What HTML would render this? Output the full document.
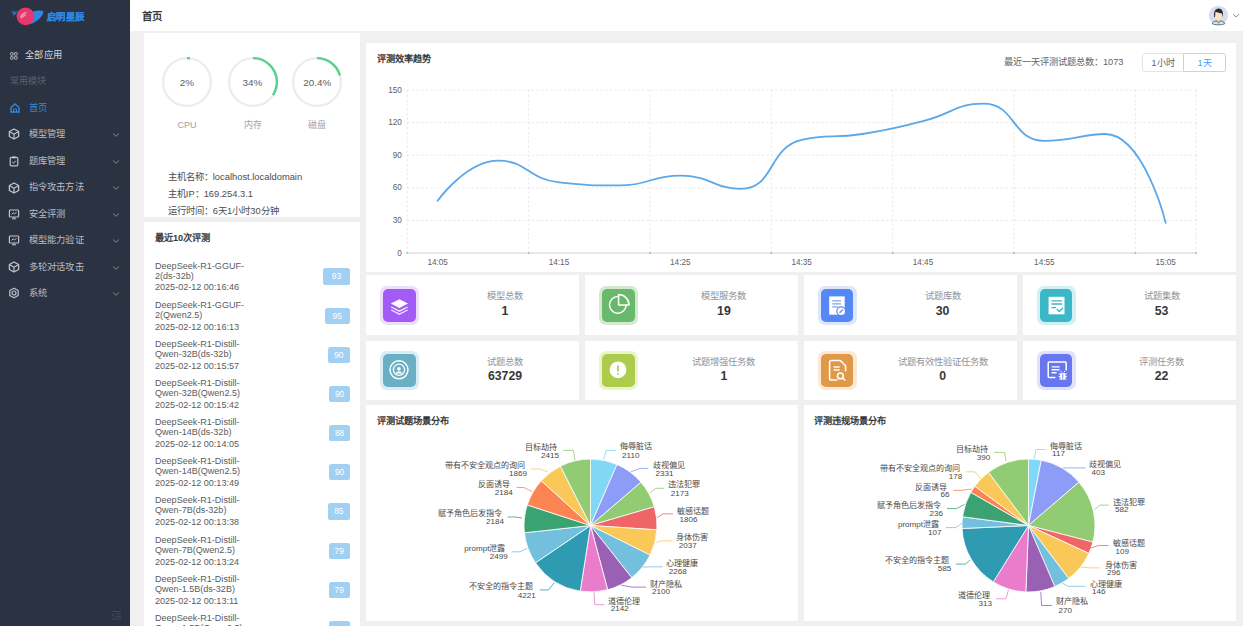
<!DOCTYPE html>
<html lang="zh-CN">
<head>
<meta charset="utf-8">
<style>
*{margin:0;padding:0;box-sizing:border-box}
html,body{width:1243px;height:626px;overflow:hidden}
body{background:#f0f0f0;font-family:"Liberation Sans",sans-serif;color:#303133;position:relative}
.a{position:absolute}
.t{position:absolute;white-space:nowrap;line-height:1}
#side{left:0;top:0;width:130px;height:626px;background:#2b3241}
#hdr{left:130px;top:0;width:1113px;height:31px;background:#fff;}
.card{position:absolute;background:#fff}
.mi{position:absolute;left:0;width:130px;height:14px;color:#b9bec6;font-size:9.25px;letter-spacing:0.2px}
.mi .tx{position:absolute;left:28.7px;top:2px;white-space:nowrap;line-height:10px}
.mi svg{position:absolute;left:9px;top:2.5px}
.mi .chev{left:112px;top:4px}
.stat .lab{position:absolute;left:0;width:100%;text-align:center;font-size:9.3px;color:#909399;line-height:10px}
.stat .val{position:absolute;left:0;width:100%;text-align:center;font-size:12.3px;font-weight:bold;color:#383838;line-height:13px}
.ico{position:absolute;left:14px;top:10.5px;width:39px;height:39px;border-radius:7px}
.ico .in{position:absolute;left:3.3px;top:3.2px;width:32.4px;height:32.6px;border-radius:5px}
.ico svg{position:absolute;left:0;top:0}
.rec{position:absolute;left:11px;width:200px;height:36px}
.rec .nm{position:absolute;left:0;top:0;font-size:9.06px;color:#595b60;line-height:10px;width:100px;white-space:pre}
.rec .dt{position:absolute;left:0;top:21.9px;font-size:9.06px;color:#595b60;line-height:10px;white-space:nowrap}
.rec .bd{position:absolute;top:2.3px;height:16.2px;background:#a2d0f2;border-radius:2.6px;color:#fff;font-size:8.4px;line-height:16.2px;text-align:center}
</style>
</head>
<body>
<!-- sidebar -->
<div id="side" class="a">
  <svg class="a" style="left:0;top:0" width="130" height="31" viewBox="0 0 130 31">
    <path d="M11,10.5 L14.5,12.2 L13.5,8 L15.2,12 L18,10.2 L15.8,13.4 L17.5,15 L14.5,14.3 L13.6,18 L13.3,14.4 Z" fill="#2d7fd1" opacity="0.85"/>
    <path d="M30.5,12 C36,10.2 41,10 43.3,11 C43.6,15.5 38.5,21 31,24 C29.5,23.5 30,22 31.8,20.5 Z" fill="#2d88e6"/>
    <circle cx="25.5" cy="16.3" r="8.9" fill="#e8386b"/>
    <path d="M19.8,16.8 C21,13.5 24,11.6 27.5,12.2 L24.2,14.2 L27,14.6 L21.5,18.8 Z" fill="#f6a9c1" opacity="0.7"/>
  </svg>
  <div class="t" style="left:46.8px;top:13.2px;font-size:9.3px;font-weight:bold;color:#2a86e0;letter-spacing:0.5px;-webkit-text-stroke:0.35px #2a86e0">启明星辰</div>

  <div class="mi" style="top:48.2px;color:#d2d6dc">
    <svg width="8" height="8" viewBox="0 0 8 8" style="left:9.6px;top:3.6px"><g fill="none" stroke="#cfd3d9" stroke-width="0.8"><rect x="0.6" y="0.6" width="2.6" height="2.6" rx="0.5"/><rect x="4.6" y="0.6" width="2.6" height="2.6" rx="0.5"/><rect x="0.6" y="4.6" width="2.6" height="2.6" rx="0.5"/><rect x="4.6" y="4.6" width="2.6" height="2.6" rx="0.5"/></g></svg>
    <div class="tx" style="left:25.2px">全部应用</div>
  </div>
  <div class="t" style="left:9.9px;top:77px;font-size:9.06px;color:#596170">常用模块</div>
  <div class="mi" style="top:100.9px;color:#2f89df">
    <svg width="10" height="10" viewBox="0 0 10 10" style="left:9.8px;top:2.5px"><path d="M1,4.5 L5,1 L9,4.5 L9,9 L1,9 Z" fill="none" stroke="#2f89df" stroke-width="1.4"/><path d="M3.5,9 L3.5,6 L6.5,6 L6.5,9" fill="none" stroke="#2f89df" stroke-width="1"/></svg>
    <div class="tx">首页</div>
  </div>
  <div class="mi" style="top:127.2px"><svg width="12" height="12" viewBox="0 0 12 12" style="left:8px;top:1.2px"><path d="M6,1 L10.6,3.5 V8.5 L6,11 L1.4,8.5 V3.5 Z" fill="none" stroke="#bfc4cc" stroke-width="1.3" stroke-linejoin="round"/><path d="M6,6.2 V10.8 M6,6.2 L1.8,3.8 M6,6.2 L10.2,3.8" stroke="#bfc4cc" stroke-width="1.2"/></svg><div class="tx">模型管理</div><svg class="chev" style="top:5px" width="8" height="6" viewBox="0 0 8 6"><path d="M1,1.5 L4,4.3 L7,1.5" fill="none" stroke="#8a909a" stroke-width="0.9"/></svg></div>
<div class="mi" style="top:153.7px"><svg width="12" height="12" viewBox="0 0 12 12" style="left:8px;top:1.2px"><rect x="2.2" y="2.4" width="7.6" height="8.4" rx="1" fill="none" stroke="#bfc4cc" stroke-width="1.2"/><path d="M4.4,1.4 H7.6 V3.4 H4.4Z" fill="#bfc4cc"/><path d="M4.2,7 L5.6,8.2 L7.8,5.8" fill="none" stroke="#bfc4cc" stroke-width="1"/></svg><div class="tx">题库管理</div><svg class="chev" style="top:5px" width="8" height="6" viewBox="0 0 8 6"><path d="M1,1.5 L4,4.3 L7,1.5" fill="none" stroke="#8a909a" stroke-width="0.9"/></svg></div>
<div class="mi" style="top:180.4px"><svg width="12" height="12" viewBox="0 0 12 12" style="left:8px;top:1.2px"><path d="M6,1 L10.6,3.5 V8.5 L6,11 L1.4,8.5 V3.5 Z" fill="none" stroke="#bfc4cc" stroke-width="1.3" stroke-linejoin="round"/><path d="M6,6.2 V10.8 M6,6.2 L1.8,3.8 M6,6.2 L10.2,3.8" stroke="#bfc4cc" stroke-width="1.2"/></svg><div class="tx">指令攻击方法</div><svg class="chev" style="top:5px" width="8" height="6" viewBox="0 0 8 6"><path d="M1,1.5 L4,4.3 L7,1.5" fill="none" stroke="#8a909a" stroke-width="0.9"/></svg></div>
<div class="mi" style="top:206.9px"><svg width="12" height="12" viewBox="0 0 12 12" style="left:8px;top:1.2px"><rect x="1.4" y="2" width="9.2" height="7" rx="0.8" fill="none" stroke="#bfc4cc" stroke-width="1.2"/><path d="M4,10.8 H8 M6,9 V10.8 M3.6,6.4 L5.2,4.8 L6.6,6 L8.4,4.2" fill="none" stroke="#bfc4cc" stroke-width="1"/></svg><div class="tx">安全评测</div><svg class="chev" style="top:5px" width="8" height="6" viewBox="0 0 8 6"><path d="M1,1.5 L4,4.3 L7,1.5" fill="none" stroke="#8a909a" stroke-width="0.9"/></svg></div>
<div class="mi" style="top:233px"><svg width="12" height="12" viewBox="0 0 12 12" style="left:8px;top:1.2px"><rect x="1.4" y="2" width="9.2" height="7" rx="0.8" fill="none" stroke="#bfc4cc" stroke-width="1.2"/><path d="M4,10.8 H8 M6,9 V10.8 M3.6,6.4 L5.2,4.8 L6.6,6 L8.4,4.2" fill="none" stroke="#bfc4cc" stroke-width="1"/></svg><div class="tx">模型能力验证</div><svg class="chev" style="top:5px" width="8" height="6" viewBox="0 0 8 6"><path d="M1,1.5 L4,4.3 L7,1.5" fill="none" stroke="#8a909a" stroke-width="0.9"/></svg></div>
<div class="mi" style="top:259.5px"><svg width="12" height="12" viewBox="0 0 12 12" style="left:8px;top:1.2px"><path d="M6,1 L10.6,3.5 V8.5 L6,11 L1.4,8.5 V3.5 Z" fill="none" stroke="#bfc4cc" stroke-width="1.3" stroke-linejoin="round"/><path d="M6,6.2 V10.8 M6,6.2 L1.8,3.8 M6,6.2 L10.2,3.8" stroke="#bfc4cc" stroke-width="1.2"/></svg><div class="tx">多轮对话攻击</div><svg class="chev" style="top:5px" width="8" height="6" viewBox="0 0 8 6"><path d="M1,1.5 L4,4.3 L7,1.5" fill="none" stroke="#8a909a" stroke-width="0.9"/></svg></div>
<div class="mi" style="top:286px"><svg width="12" height="12" viewBox="0 0 12 12" style="left:8px;top:1.2px"><circle cx="6" cy="6" r="2" fill="none" stroke="#bfc4cc" stroke-width="1.2"/><path d="M6,1.2 L10.2,3.6 V8.4 L6,10.8 L1.8,8.4 V3.6 Z" fill="none" stroke="#bfc4cc" stroke-width="1.2" stroke-linejoin="round"/></svg><div class="tx">系统</div><svg class="chev" style="top:5px" width="8" height="6" viewBox="0 0 8 6"><path d="M1,1.5 L4,4.3 L7,1.5" fill="none" stroke="#8a909a" stroke-width="0.9"/></svg></div>
  <svg class="a" style="left:111px;top:610px" width="11" height="10" viewBox="0 0 11 10"><g stroke="#404858" stroke-width="1"><path d="M1,1.5H10M5,4H10M5,6.5H10M1,9H10"/><path d="M3.5,3.5 L1,5.2 L3.5,7" fill="none"/></g></svg>
</div>

<!-- header -->
<div id="hdr" class="a">
  <div class="t" style="left:12px;top:11.6px;font-size:10.4px;font-weight:bold;color:#383838">首页</div>
  <svg class="a" style="left:1078px;top:5px" width="35" height="22" viewBox="0 0 35 22">
    <circle cx="10.5" cy="10.4" r="9.6" fill="#d9dcec"/>
    <path d="M4.2,18.6 C5.2,16.4 7.6,15.8 10.5,15.8 C13.4,15.8 15.8,16.4 16.8,18.6 C14.8,20.2 6.2,20.2 4.2,18.6Z" fill="#cfe9ee" stroke="#3d5056" stroke-width="0.8"/>
    <path d="M8.6,16 L10.5,18.2 L12.4,16" fill="none" stroke="#3d5056" stroke-width="0.7"/>
    <path d="M9.3,13.6 L11.7,13.6 L11.6,16.6 L9.4,16.6 Z" fill="#efcfae"/>
    <ellipse cx="10.5" cy="10.9" rx="3.3" ry="4.4" fill="#fde3c4"/>
    <path d="M6.3,12.2 C5.3,6.6 7.4,3.5 10.6,3.4 C13.8,3.4 15.8,6.3 14.8,12.2 L14,8.6 C12.4,8.2 9.2,7.6 7.4,6.8 L7,12.2 Z" fill="#262a30"/>
    <path d="M25.4,9.2 L28.2,12 L31,9.2" fill="none" stroke="#7d828a" stroke-width="1"/>
  </svg>
</div>

<!-- left column -->
<div class="card" style="left:144px;top:32.6px;width:216px;height:184.3px">
  <svg class="a" style="left:17px;top:23.9px" width="52" height="52" viewBox="0 0 52 52"><circle cx="26" cy="26" r="23.9" fill="none" stroke="#ededf0" stroke-width="2.4"/><circle cx="26" cy="26" r="23.9" fill="none" stroke="#55d489" stroke-width="2.4" stroke-linecap="butt" stroke-dasharray="3 1000" transform="rotate(-90 26 26)"/></svg>
<div class="t" style="left:13px;width:60px;text-align:center;top:45.2px;font-size:9.9px;color:#5e6064">2%</div>
<div class="t" style="left:13px;width:60px;text-align:center;top:88.6px;font-size:9.06px;color:#a0a3a8">CPU</div>
<svg class="a" style="left:82.5px;top:23.9px" width="52" height="52" viewBox="0 0 52 52"><circle cx="26" cy="26" r="23.9" fill="none" stroke="#ededf0" stroke-width="2.4"/><circle cx="26" cy="26" r="23.9" fill="none" stroke="#55d489" stroke-width="2.4" stroke-linecap="butt" stroke-dasharray="51.06 1000" transform="rotate(-90 26 26)"/></svg>
<div class="t" style="left:78.5px;width:60px;text-align:center;top:45.2px;font-size:9.9px;color:#5e6064">34%</div>
<div class="t" style="left:78.5px;width:60px;text-align:center;top:88.6px;font-size:9.06px;color:#a0a3a8">内存</div>
<svg class="a" style="left:147.3px;top:23.9px" width="52" height="52" viewBox="0 0 52 52"><circle cx="26" cy="26" r="23.9" fill="none" stroke="#ededf0" stroke-width="2.4"/><circle cx="26" cy="26" r="23.9" fill="none" stroke="#55d489" stroke-width="2.4" stroke-linecap="butt" stroke-dasharray="30.63 1000" transform="rotate(-90 26 26)"/></svg>
<div class="t" style="left:143.3px;width:60px;text-align:center;top:45.2px;font-size:9.9px;color:#5e6064">20.4%</div>
<div class="t" style="left:143.3px;width:60px;text-align:center;top:88.6px;font-size:9.06px;color:#a0a3a8">磁盘</div>
  <div class="t" style="left:23.8px;top:140.6px;font-size:9.35px;color:#4a4d52">主机名称：localhost.localdomain</div>
  <div class="t" style="left:23.8px;top:157.7px;font-size:9.35px;color:#4a4d52">主机IP：169.254.3.1</div>
  <div class="t" style="left:23.8px;top:174.8px;font-size:9.35px;color:#4a4d52">运行时间：6天1小时30分钟</div>
</div>
<div class="card" style="left:144px;top:222.2px;width:216px;height:410px">
  <div class="t" style="left:11px;top:11.6px;font-size:9.2px;font-weight:bold;color:#3a3a3a">最近10次评测</div>
  <div class="rec" style="top:38.4px"><div class="nm">DeepSeek-R1-GGUF-
2(ds-32b)</div><div class="dt">2025-02-12 00:16:46</div><div class="bd" style="left:168.2px;width:26.6px;top:7.9px">93</div></div>
<div class="rec" style="top:77.55px"><div class="nm">DeepSeek-R1-GGUF-
2(Qwen2.5)</div><div class="dt">2025-02-12 00:16:13</div><div class="bd" style="left:169.5px;width:25.3px;top:7.9px">95</div></div>
<div class="rec" style="top:116.7px"><div class="nm">DeepSeek-R1-Distill-
Qwen-32B(ds-32b)</div><div class="dt">2025-02-12 00:15:57</div><div class="bd" style="left:172.8px;width:22px;top:7.9px">90</div></div>
<div class="rec" style="top:155.85px"><div class="nm">DeepSeek-R1-Distill-
Qwen-32B(Qwen2.5)</div><div class="dt">2025-02-12 00:15:42</div><div class="bd" style="left:174.3px;width:20.5px;top:7.9px">90</div></div>
<div class="rec" style="top:195px"><div class="nm">DeepSeek-R1-Distill-
Qwen-14B(ds-32b)</div><div class="dt">2025-02-12 00:14:05</div><div class="bd" style="left:174.3px;width:20.5px;top:7.9px">88</div></div>
<div class="rec" style="top:234.15px"><div class="nm">DeepSeek-R1-Distill-
Qwen-14B(Qwen2.5)</div><div class="dt">2025-02-12 00:13:49</div><div class="bd" style="left:174.3px;width:20.5px;top:7.9px">90</div></div>
<div class="rec" style="top:273.3px"><div class="nm">DeepSeek-R1-Distill-
Qwen-7B(ds-32b)</div><div class="dt">2025-02-12 00:13:38</div><div class="bd" style="left:172.8px;width:22px;top:7.9px">85</div></div>
<div class="rec" style="top:312.45px"><div class="nm">DeepSeek-R1-Distill-
Qwen-7B(Qwen2.5)</div><div class="dt">2025-02-12 00:13:24</div><div class="bd" style="left:173.6px;width:21.2px;top:7.9px">79</div></div>
<div class="rec" style="top:351.6px"><div class="nm">DeepSeek-R1-Distill-
Qwen-1.5B(ds-32B)</div><div class="dt">2025-02-12 00:13:11</div><div class="bd" style="left:173.6px;width:21.2px;top:7.9px">79</div></div>
<div class="rec" style="top:390.75px"><div class="nm">DeepSeek-R1-Distill-
Qwen-1.5B(Qwen2.5)</div><div class="dt">2025-02-12 00:12:58</div><div class="bd" style="left:173.6px;width:21.2px;top:7.9px">79</div></div>
</div>

<!-- chart card -->
<div class="card" style="left:366px;top:43.3px;width:870px;height:228.7px">
  <div class="t" style="left:11px;top:11.5px;font-size:9.2px;font-weight:bold;color:#3a3a3a">评测效率趋势</div>
  <div class="t" style="left:638px;top:15px;font-size:9.2px;color:#606266">最近一天评测试题总数：1073</div>
  <div class="a" style="left:776px;top:9.8px;width:42px;height:19px;border:0.65px solid #e2e4e8;border-radius:2.6px 0 0 2.6px;font-size:9.06px;color:#606266;text-align:center;line-height:18px">1小时</div>
  <div class="a" style="left:817px;top:9.8px;width:43px;height:19px;border:0.65px solid #b3d8ff;border-radius:0 2.6px 2.6px 0;font-size:9.06px;color:#409eff;text-align:center;line-height:18px;background:#fff">1天</div>
</div>
<svg class="a" style="left:0;top:0" width="1243" height="626" viewBox="0 0 1243 626">
  <path d="M407.3,90 H1196" stroke="#dedede" stroke-width="0.65" stroke-dasharray="2.6 2"/>
<path d="M407.3,122.6 H1196" stroke="#dedede" stroke-width="0.65" stroke-dasharray="2.6 2"/>
<path d="M407.3,155.2 H1196" stroke="#dedede" stroke-width="0.65" stroke-dasharray="2.6 2"/>
<path d="M407.3,187.8 H1196" stroke="#dedede" stroke-width="0.65" stroke-dasharray="2.6 2"/>
<path d="M407.3,220.4 H1196" stroke="#dedede" stroke-width="0.65" stroke-dasharray="2.6 2"/>
<path d="M407.3,90 V253" stroke="#dedede" stroke-width="0.65" stroke-dasharray="2.6 2"/>
<path d="M528.64,90 V253" stroke="#dedede" stroke-width="0.65" stroke-dasharray="2.6 2"/>
<path d="M649.98,90 V253" stroke="#dedede" stroke-width="0.65" stroke-dasharray="2.6 2"/>
<path d="M771.32,90 V253" stroke="#dedede" stroke-width="0.65" stroke-dasharray="2.6 2"/>
<path d="M892.65,90 V253" stroke="#dedede" stroke-width="0.65" stroke-dasharray="2.6 2"/>
<path d="M1013.99,90 V253" stroke="#dedede" stroke-width="0.65" stroke-dasharray="2.6 2"/>
<path d="M1135.33,90 V253" stroke="#dedede" stroke-width="0.65" stroke-dasharray="2.6 2"/>
<path d="M1196,90 V253" stroke="#dedede" stroke-width="0.65" stroke-dasharray="2.6 2"/>
<path d="M407.3,253 H1196" stroke="#e0e0e0" stroke-width="1.3"/>
<rect x="406.5" y="252.2" width="1.6" height="1.6" fill="#6fd3a4"/>
<rect x="527.84" y="252.2" width="1.6" height="1.6" fill="#6fd3a4"/>
<rect x="649.18" y="252.2" width="1.6" height="1.6" fill="#6fd3a4"/>
<rect x="770.52" y="252.2" width="1.6" height="1.6" fill="#6fd3a4"/>
<rect x="891.85" y="252.2" width="1.6" height="1.6" fill="#6fd3a4"/>
<rect x="1013.19" y="252.2" width="1.6" height="1.6" fill="#6fd3a4"/>
<rect x="1134.53" y="252.2" width="1.6" height="1.6" fill="#6fd3a4"/>
<rect x="1195.2" y="252.2" width="1.6" height="1.6" fill="#6fd3a4"/>
<text x="401.9" y="253" text-anchor="end" dominant-baseline="central" font-size="8.2" fill="#5f6166" font-family="Liberation Sans">0</text>
<text x="401.9" y="220.4" text-anchor="end" dominant-baseline="central" font-size="8.2" fill="#5f6166" font-family="Liberation Sans">30</text>
<text x="401.9" y="187.8" text-anchor="end" dominant-baseline="central" font-size="8.2" fill="#5f6166" font-family="Liberation Sans">60</text>
<text x="401.9" y="155.2" text-anchor="end" dominant-baseline="central" font-size="8.2" fill="#5f6166" font-family="Liberation Sans">90</text>
<text x="401.9" y="122.6" text-anchor="end" dominant-baseline="central" font-size="8.2" fill="#5f6166" font-family="Liberation Sans">120</text>
<text x="401.9" y="90" text-anchor="end" dominant-baseline="central" font-size="8.2" fill="#5f6166" font-family="Liberation Sans">150</text>
<text x="437.63" y="262.4" text-anchor="middle" dominant-baseline="central" font-size="8.2" fill="#5f6166" font-family="Liberation Sans">14:05</text>
<text x="558.97" y="262.4" text-anchor="middle" dominant-baseline="central" font-size="8.2" fill="#5f6166" font-family="Liberation Sans">14:15</text>
<text x="680.31" y="262.4" text-anchor="middle" dominant-baseline="central" font-size="8.2" fill="#5f6166" font-family="Liberation Sans">14:25</text>
<text x="801.65" y="262.4" text-anchor="middle" dominant-baseline="central" font-size="8.2" fill="#5f6166" font-family="Liberation Sans">14:35</text>
<text x="922.99" y="262.4" text-anchor="middle" dominant-baseline="central" font-size="8.2" fill="#5f6166" font-family="Liberation Sans">14:45</text>
<text x="1044.33" y="262.4" text-anchor="middle" dominant-baseline="central" font-size="8.2" fill="#5f6166" font-family="Liberation Sans">14:55</text>
<text x="1165.67" y="262.4" text-anchor="middle" dominant-baseline="central" font-size="8.2" fill="#5f6166" font-family="Liberation Sans">15:05</text>
  <path d="M437.63,200.84 C437.63,200.84 466.13,160.63 498.3,160.63 C526.8,160.63 527.74,179.14 558.97,182.37 C588.41,185.41 589.48,185.41 619.64,185.41 C650.15,185.41 650.14,175.63 680.31,175.63 C710.81,175.63 714.07,188.89 740.98,188.89 C774.74,188.89 767.61,147.63 801.65,139.99 C828.28,134.01 832.24,138.67 862.32,134.01 C892.91,129.27 892.94,128.72 922.99,121.19 C953.6,113.51 955.14,103.58 983.66,103.58 C1015.81,103.58 1011.66,140.86 1044.33,140.86 C1072.33,140.86 1083.04,134.01 1105,134.01 C1143.71,134.01 1165.67,222.9 1165.67,222.9" fill="none" stroke="#5aa8ea" stroke-width="1.8" stroke-linejoin="round" stroke-linecap="round"/>
</svg>

<!-- stats -->
<div class="card stat" style="left:366px;top:275.4px;width:213.2px;height:59.8px"><div class="ico" style="background:#ecdffc"><div class="in" style="background:#a25cf5"></div><svg width="39" height="39" viewBox="0 0 39 39"><path d="M19.4,13.2 L28,17.6 L19.4,22 L10.8,17.6 Z" fill="#fff"/><path d="M11.2,21 L19.4,25.2 L27.6,21 M11.2,24 L19.4,28.2 L27.6,24" fill="none" stroke="#f0e3ff" stroke-width="1.4"/></svg></div><div class="lab" style="left:59px;width:160px;top:16px">模型总数</div><div class="val" style="left:59px;width:160px;top:29.5px">1</div></div>
<div class="card stat" style="left:584.9px;top:275.4px;width:213.2px;height:59.8px"><div class="ico" style="background:#d3ead0"><div class="in" style="background:#68b96b"></div><svg width="39" height="39" viewBox="0 0 39 39"><path d="M18.8,10.6 A8.3,8.3 0 1 0 27.1,18.9" fill="none" stroke="#fff" stroke-width="1.5"/><path d="M19.6,8.6 A10.4,10.4 0 0 1 30,19 L19.6,19 Z" fill="none" stroke="#fff" stroke-width="1.5" stroke-linejoin="round"/></svg></div><div class="lab" style="left:59px;width:160px;top:16px">模型服务数</div><div class="val" style="left:59px;width:160px;top:29.5px">19</div></div>
<div class="card stat" style="left:803.6px;top:275.4px;width:213.2px;height:59.8px"><div class="ico" style="background:#dde6fb"><div class="in" style="background:#5588f5"></div><svg width="39" height="39" viewBox="0 0 39 39"><rect x="11.2" y="10.4" width="15.5" height="18.3" fill="#fff"/><path d="M14.2,14.9 H23 M14.2,17.8 H23 M14.2,20.8 H20" stroke="#7aa2f5" stroke-width="1.2"/><circle cx="23.2" cy="25.2" r="4.9" fill="#5588f5"/><circle cx="23.2" cy="25.2" r="3.8" fill="#fff"/><path d="M21.5,26.9 L24.9,23.5" stroke="#6f9af4" stroke-width="1.6"/></svg></div><div class="lab" style="left:59px;width:160px;top:16px">试题库数</div><div class="val" style="left:59px;width:160px;top:29.5px">30</div></div>
<div class="card stat" style="left:1022.5px;top:275.4px;width:213.2px;height:59.8px"><div class="ico" style="background:#d0f0f3"><div class="in" style="background:#3bb8c8"></div><svg width="39" height="39" viewBox="0 0 39 39"><rect x="11.6" y="10.8" width="15.9" height="17.5" fill="#fff"/><path d="M14.4,14.9 H25.2 M14.4,18 H25.2 M14.4,21.6 H19.2" stroke="#3bb8c8" stroke-width="1.3"/><path d="M19.8,23 L22.4,25.5 L26,21.8" fill="none" stroke="#3bb8c8" stroke-width="1.4"/></svg></div><div class="lab" style="left:59px;width:160px;top:16px">试题集数</div><div class="val" style="left:59px;width:160px;top:29.5px">53</div></div>
<div class="card stat" style="left:366px;top:340.7px;width:213.2px;height:59.8px"><div class="ico" style="background:#d9eef4"><div class="in" style="background:#6aafc4"></div><svg width="39" height="39" viewBox="0 0 39 39"><circle cx="19" cy="18.8" r="9" fill="none" stroke="#fff" stroke-width="1.5"/><circle cx="19" cy="18.8" r="5.6" fill="none" stroke="#fff" stroke-width="1.3"/><circle cx="18.9" cy="17.9" r="1.8" fill="#fff"/><path d="M15.6,22.4 C16.4,19.8 21.6,19.8 22.4,22.4 Z" fill="#fff"/></svg></div><div class="lab" style="left:59px;width:160px;top:16px">试题总数</div><div class="val" style="left:59px;width:160px;top:29.5px">63729</div></div>
<div class="card stat" style="left:584.9px;top:340.7px;width:213.2px;height:59.8px"><div class="ico" style="background:#eaf5cc"><div class="in" style="background:#adcc4c"></div><svg width="39" height="39" viewBox="0 0 39 39"><circle cx="19" cy="18.8" r="8.4" fill="#fff"/><path d="M19,14.6 V20.6" stroke="#adcc4c" stroke-width="1.7"/><circle cx="19" cy="22.9" r="0.95" fill="#adcc4c"/></svg></div><div class="lab" style="left:59px;width:160px;top:16px">试题增强任务数</div><div class="val" style="left:59px;width:160px;top:29.5px">1</div></div>
<div class="card stat" style="left:803.6px;top:340.7px;width:213.2px;height:59.8px"><div class="ico" style="background:#fce9d4"><div class="in" style="background:#e0994a"></div><svg width="39" height="39" viewBox="0 0 39 39"><path d="M19.4,29 H13.4 Q11.6,29 11.6,27.2 V11.4 Q11.6,9.6 13.4,9.6 H22.4 L27.6,14.8 V20.2" fill="none" stroke="#fff" stroke-width="1.5" stroke-linejoin="round"/><path d="M15.6,15.9 H21.6 M15.6,19 H21.6" stroke="#fff" stroke-width="1.5"/><circle cx="22.4" cy="24.9" r="2.9" fill="none" stroke="#fff" stroke-width="1.5"/><path d="M24.5,27 L27.4,29.4" stroke="#fff" stroke-width="1.5"/></svg></div><div class="lab" style="left:59px;width:160px;top:16px">试题有效性验证任务数</div><div class="val" style="left:59px;width:160px;top:29.5px">0</div></div>
<div class="card stat" style="left:1022.5px;top:340.7px;width:213.2px;height:59.8px"><div class="ico" style="background:#e0e2fb"><div class="in" style="background:#6777ef"></div><svg width="39" height="39" viewBox="0 0 39 39"><path d="M18.4,26.4 H12.2 Q11.2,26.4 11.2,25.4 V12 Q11.2,11 12.2,11 H28.2 Q29.2,11 29.2,12 V19.4" fill="none" stroke="#fff" stroke-width="1.5"/><path d="M14.6,15.9 H22.6 M14.6,18.8 H22.6 M14.6,21.8 H19.6" stroke="#fff" stroke-width="1.4"/><ellipse cx="25.8" cy="25.2" rx="2.8" ry="3.4" fill="#fff"/><path d="M21.8,23 H29.8 M21.8,25.6 H29.8 M22.2,28 H29.4 M24.6,21.2 L23.6,20 M27,21.2 L28,20" stroke="#fff" stroke-width="1"/><path d="M25.8,22.6 V28.4" stroke="#6777ef" stroke-width="0.8"/></svg></div><div class="lab" style="left:59px;width:160px;top:16px">评测任务数</div><div class="val" style="left:59px;width:160px;top:29.5px">22</div></div>

<!-- pies -->
<div class="card" style="left:366px;top:405px;width:432.4px;height:216px">
  <div class="t" style="left:10.5px;top:11.8px;font-size:9.2px;font-weight:bold;color:#3a3a3a">评测试题场景分布</div>
</div>
<div class="card" style="left:803.6px;top:405px;width:432.4px;height:216px">
  <div class="t" style="left:10.8px;top:11.8px;font-size:9.2px;font-weight:bold;color:#3a3a3a">评测违规场景分布</div>
</div>
<svg class="a" style="left:0;top:0" width="1243" height="626" viewBox="0 0 1243 626">
<path d="M590.5,525.5 L590.5,459 A66.5,66.5 0 0 1 617,464.51 Z" fill="#80d8f6" stroke="#fff" stroke-width="0.8" stroke-linejoin="round"/>
<path d="M590.5,525.5 L617,464.51 A66.5,66.5 0 0 1 641.02,482.26 Z" fill="#8d9cf6" stroke="#fff" stroke-width="0.8" stroke-linejoin="round"/>
<path d="M590.5,525.5 L641.02,482.26 A66.5,66.5 0 0 1 654.3,506.75 Z" fill="#91cc75" stroke="#fff" stroke-width="0.8" stroke-linejoin="round"/>
<path d="M590.5,525.5 L654.3,506.75 A66.5,66.5 0 0 1 656.86,529.83 Z" fill="#ee6666" stroke="#fff" stroke-width="0.8" stroke-linejoin="round"/>
<path d="M590.5,525.5 L656.86,529.83 A66.5,66.5 0 0 1 650.06,555.08 Z" fill="#fac858" stroke="#fff" stroke-width="0.8" stroke-linejoin="round"/>
<path d="M590.5,525.5 L650.06,555.08 A66.5,66.5 0 0 1 631.76,577.66 Z" fill="#73c0de" stroke="#fff" stroke-width="0.8" stroke-linejoin="round"/>
<path d="M590.5,525.5 L631.76,577.66 A66.5,66.5 0 0 1 607.67,589.74 Z" fill="#9a60b4" stroke="#fff" stroke-width="0.8" stroke-linejoin="round"/>
<path d="M590.5,525.5 L607.67,589.74 A66.5,66.5 0 0 1 580.24,591.2 Z" fill="#ea7ccc" stroke="#fff" stroke-width="0.8" stroke-linejoin="round"/>
<path d="M590.5,525.5 L580.24,591.2 A66.5,66.5 0 0 1 535.46,562.81 Z" fill="#2f9bb3" stroke="#fff" stroke-width="0.8" stroke-linejoin="round"/>
<path d="M590.5,525.5 L535.46,562.81 A66.5,66.5 0 0 1 524.4,532.81 Z" fill="#73c0de" stroke="#fff" stroke-width="0.8" stroke-linejoin="round"/>
<path d="M590.5,525.5 L524.4,532.81 A66.5,66.5 0 0 1 527.25,504.95 Z" fill="#3ba272" stroke="#fff" stroke-width="0.8" stroke-linejoin="round"/>
<path d="M590.5,525.5 L527.25,504.95 A66.5,66.5 0 0 1 541.32,480.74 Z" fill="#fc8452" stroke="#fff" stroke-width="0.8" stroke-linejoin="round"/>
<path d="M590.5,525.5 L541.32,480.74 A66.5,66.5 0 0 1 560.43,466.19 Z" fill="#fac858" stroke="#fff" stroke-width="0.8" stroke-linejoin="round"/>
<path d="M590.5,525.5 L560.43,466.19 A66.5,66.5 0 0 1 590.5,459 Z" fill="#91cc75" stroke="#fff" stroke-width="0.8" stroke-linejoin="round"/>
<path d="M1028.5,525.5 L1028.5,459 A66.5,66.5 0 0 1 1041.29,460.24 Z" fill="#80d8f6" stroke="#fff" stroke-width="0.8" stroke-linejoin="round"/>
<path d="M1028.5,525.5 L1041.29,460.24 A66.5,66.5 0 0 1 1078.91,482.13 Z" fill="#8d9cf6" stroke="#fff" stroke-width="0.8" stroke-linejoin="round"/>
<path d="M1028.5,525.5 L1078.91,482.13 A66.5,66.5 0 0 1 1092.89,542.1 Z" fill="#91cc75" stroke="#fff" stroke-width="0.8" stroke-linejoin="round"/>
<path d="M1028.5,525.5 L1092.89,542.1 A66.5,66.5 0 0 1 1088.87,553.38 Z" fill="#ee6666" stroke="#fff" stroke-width="0.8" stroke-linejoin="round"/>
<path d="M1028.5,525.5 L1088.87,553.38 A66.5,66.5 0 0 1 1068.67,578.5 Z" fill="#fac858" stroke="#fff" stroke-width="0.8" stroke-linejoin="round"/>
<path d="M1028.5,525.5 L1068.67,578.5 A66.5,66.5 0 0 1 1054.82,586.57 Z" fill="#73c0de" stroke="#fff" stroke-width="0.8" stroke-linejoin="round"/>
<path d="M1028.5,525.5 L1054.82,586.57 A66.5,66.5 0 0 1 1025.86,591.95 Z" fill="#9a60b4" stroke="#fff" stroke-width="0.8" stroke-linejoin="round"/>
<path d="M1028.5,525.5 L1025.86,591.95 A66.5,66.5 0 0 1 993.32,581.93 Z" fill="#ea7ccc" stroke="#fff" stroke-width="0.8" stroke-linejoin="round"/>
<path d="M1028.5,525.5 L993.32,581.93 A66.5,66.5 0 0 1 962.07,528.52 Z" fill="#2f9bb3" stroke="#fff" stroke-width="0.8" stroke-linejoin="round"/>
<path d="M1028.5,525.5 L962.07,528.52 A66.5,66.5 0 0 1 962.57,516.78 Z" fill="#73c0de" stroke="#fff" stroke-width="0.8" stroke-linejoin="round"/>
<path d="M1028.5,525.5 L962.57,516.78 A66.5,66.5 0 0 1 970.85,492.35 Z" fill="#3ba272" stroke="#fff" stroke-width="0.8" stroke-linejoin="round"/>
<path d="M1028.5,525.5 L970.85,492.35 A66.5,66.5 0 0 1 974.81,486.26 Z" fill="#fc8452" stroke="#fff" stroke-width="0.8" stroke-linejoin="round"/>
<path d="M1028.5,525.5 L974.81,486.26 A66.5,66.5 0 0 1 988.51,472.37 Z" fill="#fac858" stroke="#fff" stroke-width="0.8" stroke-linejoin="round"/>
<path d="M1028.5,525.5 L988.51,472.37 A66.5,66.5 0 0 1 1028.5,459 Z" fill="#91cc75" stroke="#fff" stroke-width="0.8" stroke-linejoin="round"/>
<path d="M603.6,459.6 L606,450.5 L615.6,450.5" fill="none" stroke="#80d8f6" stroke-width="0.8"/>
<text x="619.6" y="446.4" text-anchor="start" dominant-baseline="central" font-size="8.1" fill="#4a4a4a" font-family="Liberation Sans">侮辱脏话</text>
<text x="622" y="455" text-anchor="start" dominant-baseline="central" font-size="8.1" fill="#4a4a4a" font-family="Liberation Sans">2110</text>
<path d="M630.8,471.9 L640,468.4 L648.3,468.4" fill="none" stroke="#8d9cf6" stroke-width="0.8"/>
<text x="653.1" y="465.9" text-anchor="start" dominant-baseline="central" font-size="8.1" fill="#4a4a4a" font-family="Liberation Sans">歧视偏见</text>
<text x="655.5" y="473.5" text-anchor="start" dominant-baseline="central" font-size="8.1" fill="#4a4a4a" font-family="Liberation Sans">2331</text>
<path d="M650,493 L656,488.3 L664.3,488.3" fill="none" stroke="#91cc75" stroke-width="0.8"/>
<text x="668.3" y="484.7" text-anchor="start" dominant-baseline="central" font-size="8.1" fill="#4a4a4a" font-family="Liberation Sans">违法犯罪</text>
<text x="670.7" y="493" text-anchor="start" dominant-baseline="central" font-size="8.1" fill="#4a4a4a" font-family="Liberation Sans">2173</text>
<path d="M657,517.6 L663,513.9 L673,513.9" fill="none" stroke="#ee6666" stroke-width="0.8"/>
<text x="677.1" y="511.1" text-anchor="start" dominant-baseline="central" font-size="8.1" fill="#4a4a4a" font-family="Liberation Sans">敏感话题</text>
<text x="679.5" y="519.4" text-anchor="start" dominant-baseline="central" font-size="8.1" fill="#4a4a4a" font-family="Liberation Sans">1806</text>
<path d="M656.3,542.4 L662,540.8 L672.3,540.8" fill="none" stroke="#fac858" stroke-width="0.8"/>
<text x="676.3" y="537.2" text-anchor="start" dominant-baseline="central" font-size="8.1" fill="#4a4a4a" font-family="Liberation Sans">身体伤害</text>
<text x="678.7" y="545.5" text-anchor="start" dominant-baseline="central" font-size="8.1" fill="#4a4a4a" font-family="Liberation Sans">2037</text>
<path d="M642.7,567.1 L652,566.8 L662.7,566.8" fill="none" stroke="#73c0de" stroke-width="0.8"/>
<text x="666.4" y="563.9" text-anchor="start" dominant-baseline="central" font-size="8.1" fill="#4a4a4a" font-family="Liberation Sans">心理健康</text>
<text x="668.8" y="571.8" text-anchor="start" dominant-baseline="central" font-size="8.1" fill="#4a4a4a" font-family="Liberation Sans">2268</text>
<path d="M621.2,585.2 L632,587.1 L646,587.1" fill="none" stroke="#9a60b4" stroke-width="0.8"/>
<text x="649.5" y="584" text-anchor="start" dominant-baseline="central" font-size="8.1" fill="#4a4a4a" font-family="Liberation Sans">财产隐私</text>
<text x="651.9" y="591.3" text-anchor="start" dominant-baseline="central" font-size="8.1" fill="#4a4a4a" font-family="Liberation Sans">2100</text>
<path d="M594,591.9 L594.8,604.7 L604.4,604.7" fill="none" stroke="#ea7ccc" stroke-width="0.8"/>
<text x="608.4" y="601.1" text-anchor="start" dominant-baseline="central" font-size="8.1" fill="#4a4a4a" font-family="Liberation Sans">道德伦理</text>
<text x="610.8" y="608.9" text-anchor="start" dominant-baseline="central" font-size="8.1" fill="#4a4a4a" font-family="Liberation Sans">2142</text>
<path d="M554.2,582.7 L548.6,589.9 L539.8,589.9" fill="none" stroke="#2f9bb3" stroke-width="0.8"/>
<text x="533.4" y="586.7" text-anchor="end" dominant-baseline="central" font-size="8.1" fill="#4a4a4a" font-family="Liberation Sans">不安全的指令主题</text>
<text x="535.8" y="595" text-anchor="end" dominant-baseline="central" font-size="8.1" fill="#4a4a4a" font-family="Liberation Sans">4221</text>
<path d="M527,548.3 L520,551.8 L511.8,551.8" fill="none" stroke="#73c0de" stroke-width="0.8"/>
<text x="505.4" y="548.7" text-anchor="end" dominant-baseline="central" font-size="8.1" fill="#4a4a4a" font-family="Liberation Sans">prompt泄露</text>
<text x="507.8" y="556.7" text-anchor="end" dominant-baseline="central" font-size="8.1" fill="#4a4a4a" font-family="Liberation Sans">2499</text>
<path d="M522,518 L515,517 L507.5,517" fill="none" stroke="#3ba272" stroke-width="0.8"/>
<text x="501.5" y="513.4" text-anchor="end" dominant-baseline="central" font-size="8.1" fill="#4a4a4a" font-family="Liberation Sans">赋予角色后发指令</text>
<text x="503.9" y="521.7" text-anchor="end" dominant-baseline="central" font-size="8.1" fill="#4a4a4a" font-family="Liberation Sans">2184</text>
<path d="M531.8,491.5 L524,487.5 L516.6,487.5" fill="none" stroke="#fc8452" stroke-width="0.8"/>
<text x="510.3" y="484.4" text-anchor="end" dominant-baseline="central" font-size="8.1" fill="#4a4a4a" font-family="Liberation Sans">反面诱导</text>
<text x="512.7" y="492.2" text-anchor="end" dominant-baseline="central" font-size="8.1" fill="#4a4a4a" font-family="Liberation Sans">2184</text>
<path d="M547.8,471.9 L540,469 L531,469" fill="none" stroke="#fac858" stroke-width="0.8"/>
<text x="524.6" y="465.5" text-anchor="end" dominant-baseline="central" font-size="8.1" fill="#4a4a4a" font-family="Liberation Sans">带有不安全观点的询问</text>
<text x="527" y="473.5" text-anchor="end" dominant-baseline="central" font-size="8.1" fill="#4a4a4a" font-family="Liberation Sans">1869</text>
<path d="M575,460 L573.4,450.4 L563.3,450.4" fill="none" stroke="#91cc75" stroke-width="0.8"/>
<text x="556.6" y="447.7" text-anchor="end" dominant-baseline="central" font-size="8.1" fill="#4a4a4a" font-family="Liberation Sans">目标劫持</text>
<text x="559" y="455.5" text-anchor="end" dominant-baseline="central" font-size="8.1" fill="#4a4a4a" font-family="Liberation Sans">2415</text>
<path d="M1034.4,458.8 L1036,449.5 L1045.6,449.5" fill="none" stroke="#80d8f6" stroke-width="0.8"/>
<text x="1049.6" y="446.4" text-anchor="start" dominant-baseline="central" font-size="8.1" fill="#4a4a4a" font-family="Liberation Sans">侮辱脏话</text>
<text x="1052" y="453.9" text-anchor="start" dominant-baseline="central" font-size="8.1" fill="#4a4a4a" font-family="Liberation Sans">117</text>
<path d="M1063.2,467.9 L1072,467.9 L1085.5,467.9" fill="none" stroke="#8d9cf6" stroke-width="0.8"/>
<text x="1089" y="464.3" text-anchor="start" dominant-baseline="central" font-size="8.1" fill="#4a4a4a" font-family="Liberation Sans">歧视偏见</text>
<text x="1091.4" y="472.6" text-anchor="start" dominant-baseline="central" font-size="8.1" fill="#4a4a4a" font-family="Liberation Sans">403</text>
<path d="M1094.3,509.6 L1099.9,505.1 L1108.7,505.1" fill="none" stroke="#91cc75" stroke-width="0.8"/>
<text x="1112.7" y="502.3" text-anchor="start" dominant-baseline="central" font-size="8.1" fill="#4a4a4a" font-family="Liberation Sans">违法犯罪</text>
<text x="1115.1" y="509.8" text-anchor="start" dominant-baseline="central" font-size="8.1" fill="#4a4a4a" font-family="Liberation Sans">582</text>
<path d="M1091.1,548 L1098.3,545.6 L1108.7,545.6" fill="none" stroke="#ee6666" stroke-width="0.8"/>
<text x="1113" y="543.6" text-anchor="start" dominant-baseline="central" font-size="8.1" fill="#4a4a4a" font-family="Liberation Sans">敏感话题</text>
<text x="1115.4" y="551.1" text-anchor="start" dominant-baseline="central" font-size="8.1" fill="#4a4a4a" font-family="Liberation Sans">109</text>
<path d="M1080.7,567.1 L1090,567.9 L1099.9,567.9" fill="none" stroke="#fac858" stroke-width="0.8"/>
<text x="1104.7" y="565.1" text-anchor="start" dominant-baseline="central" font-size="8.1" fill="#4a4a4a" font-family="Liberation Sans">身体伤害</text>
<text x="1107.1" y="572.6" text-anchor="start" dominant-baseline="central" font-size="8.1" fill="#4a4a4a" font-family="Liberation Sans">296</text>
<path d="M1062.4,583.1 L1067.9,586.3 L1085.5,586.3" fill="none" stroke="#73c0de" stroke-width="0.8"/>
<text x="1089.5" y="584" text-anchor="start" dominant-baseline="central" font-size="8.1" fill="#4a4a4a" font-family="Liberation Sans">心理健康</text>
<text x="1091.9" y="591.8" text-anchor="start" dominant-baseline="central" font-size="8.1" fill="#4a4a4a" font-family="Liberation Sans">146</text>
<path d="M1040.8,591.9 L1041.6,605.5 L1052,605.5" fill="none" stroke="#9a60b4" stroke-width="0.8"/>
<text x="1056" y="601.9" text-anchor="start" dominant-baseline="central" font-size="8.1" fill="#4a4a4a" font-family="Liberation Sans">财产隐私</text>
<text x="1058.4" y="610.2" text-anchor="start" dominant-baseline="central" font-size="8.1" fill="#4a4a4a" font-family="Liberation Sans">270</text>
<path d="M1008.5,590 L1005.9,598.8 L996.2,598.8" fill="none" stroke="#ea7ccc" stroke-width="0.8"/>
<text x="989.7" y="595.7" text-anchor="end" dominant-baseline="central" font-size="8.1" fill="#4a4a4a" font-family="Liberation Sans">道德伦理</text>
<text x="992.1" y="603" text-anchor="end" dominant-baseline="central" font-size="8.1" fill="#4a4a4a" font-family="Liberation Sans">313</text>
<path d="M969.9,560.1 L965.5,564.1 L955.8,564.1" fill="none" stroke="#2f9bb3" stroke-width="0.8"/>
<text x="948.8" y="560.5" text-anchor="end" dominant-baseline="central" font-size="8.1" fill="#4a4a4a" font-family="Liberation Sans">不安全的指令主题</text>
<text x="951.2" y="568.7" text-anchor="end" dominant-baseline="central" font-size="8.1" fill="#4a4a4a" font-family="Liberation Sans">585</text>
<path d="M962,523.2 L955.8,527.6 L945.8,527.6" fill="none" stroke="#73c0de" stroke-width="0.8"/>
<text x="939.1" y="524.5" text-anchor="end" dominant-baseline="central" font-size="8.1" fill="#4a4a4a" font-family="Liberation Sans">prompt泄露</text>
<text x="941.5" y="532.1" text-anchor="end" dominant-baseline="central" font-size="8.1" fill="#4a4a4a" font-family="Liberation Sans">107</text>
<path d="M964.6,504.3 L956.6,508.6 L947,508.6" fill="none" stroke="#3ba272" stroke-width="0.8"/>
<text x="940.7" y="505.5" text-anchor="end" dominant-baseline="central" font-size="8.1" fill="#4a4a4a" font-family="Liberation Sans">赋予角色后发指令</text>
<text x="943.1" y="513.4" text-anchor="end" dominant-baseline="central" font-size="8.1" fill="#4a4a4a" font-family="Liberation Sans">236</text>
<path d="M971.8,489.1 L960,490.4 L953.4,490.4" fill="none" stroke="#fc8452" stroke-width="0.8"/>
<text x="947" y="487.1" text-anchor="end" dominant-baseline="central" font-size="8.1" fill="#4a4a4a" font-family="Liberation Sans">反面诱导</text>
<text x="949.4" y="494.9" text-anchor="end" dominant-baseline="central" font-size="8.1" fill="#4a4a4a" font-family="Liberation Sans">66</text>
<path d="M980.6,478.7 L975,471.8 L966.2,471.8" fill="none" stroke="#fac858" stroke-width="0.8"/>
<text x="959.8" y="468.4" text-anchor="end" dominant-baseline="central" font-size="8.1" fill="#4a4a4a" font-family="Liberation Sans">带有不安全观点的询问</text>
<text x="962.2" y="476.5" text-anchor="end" dominant-baseline="central" font-size="8.1" fill="#4a4a4a" font-family="Liberation Sans">178</text>
<path d="M1006.1,461.1 L1004.5,452.4 L994.2,452.4" fill="none" stroke="#91cc75" stroke-width="0.8"/>
<text x="987.8" y="449.6" text-anchor="end" dominant-baseline="central" font-size="8.1" fill="#4a4a4a" font-family="Liberation Sans">目标劫持</text>
<text x="990.2" y="457.5" text-anchor="end" dominant-baseline="central" font-size="8.1" fill="#4a4a4a" font-family="Liberation Sans">390</text>
</svg>
</body>
</html>
